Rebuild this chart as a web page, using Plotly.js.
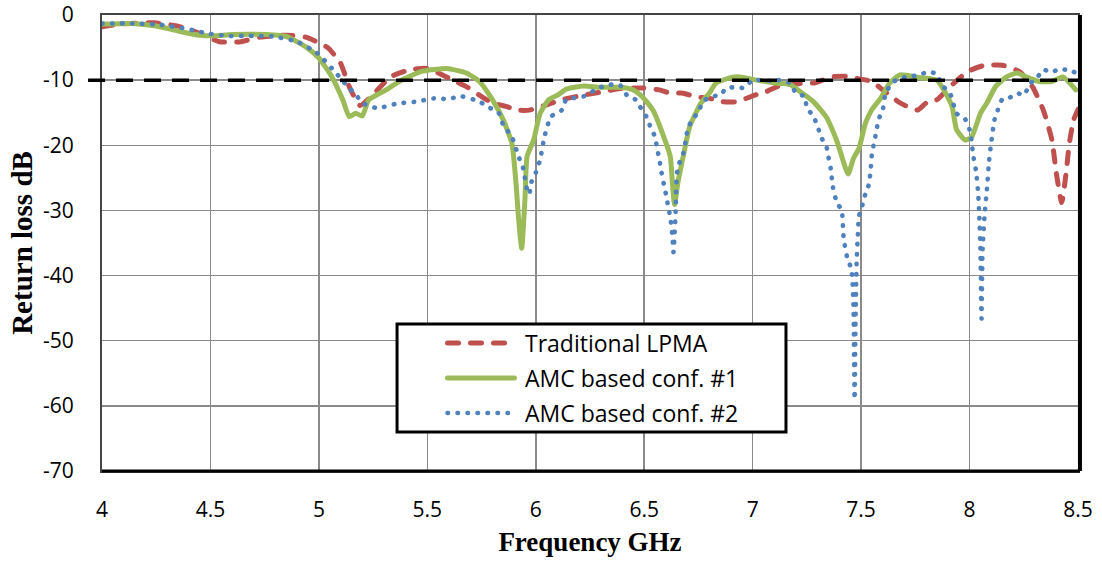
<!DOCTYPE html>
<html>
<head>
<meta charset="utf-8">
<script src="https://cdn.plot.ly/plotly-3.0.1.min.js"></script>
<style>
html,body{margin:0;padding:0;background:#fff;}
#chart{width:1102px;height:563px;}
.scatterlayer .js-line{stroke-linecap:round;}
.shapelayer path[data-index="4"],.shapelayer path[data-index="5"],.shapelayer path[data-index="6"]{stroke-linecap:round;}
</style>
</head>
<body>
<div id="chart"></div>
<script>
// ---- data ----
const seriesNames = ['Traditional LPMA', 'AMC based conf. #1', 'AMC based conf. #2'];

const freqTrad = [4.00,4.08,4.24,4.35,4.45,4.54,4.64,4.73,4.85,4.94,5.04,5.10,5.14,5.19,5.25,5.33,5.42,5.50,5.57,5.62,5.68,5.74,5.80,5.87,5.91,5.97,6.05,6.12,6.22,6.29,6.39,6.49,6.57,6.62,6.68,6.74,6.79,6.86,6.93,7.00,7.06,7.12,7.22,7.29,7.36,7.43,7.49,7.55,7.60,7.68,7.76,7.80,7.85,7.91,7.99,8.06,8.15,8.23,8.29,8.34,8.38,8.40,8.425,8.445,8.46,8.48,8.50];
const rlTrad   = [-1.8,-1.4,-1.2,-1.7,-2.8,-4.1,-4.1,-3.4,-3.1,-3.4,-5.0,-7.4,-11.0,-13.9,-12.2,-9.5,-8.4,-8.2,-9.2,-10.0,-11.0,-12.3,-13.5,-14.1,-14.6,-14.6,-13.8,-13.0,-12.3,-11.9,-11.3,-11.2,-11.5,-12.0,-12.0,-12.6,-12.7,-13.3,-13.3,-12.4,-11.8,-10.9,-10.5,-10.4,-9.5,-9.4,-9.8,-10.2,-11.5,-13.5,-14.6,-13.5,-13.0,-11.0,-8.7,-7.8,-7.7,-8.7,-11.0,-14.6,-19.2,-24.3,-28.8,-24.3,-19.7,-16.1,-14.5];

const freqConf1 = [4.00,4.14,4.25,4.37,4.45,4.51,4.60,4.76,4.85,4.94,5.00,5.06,5.11,5.14,5.17,5.20,5.23,5.31,5.37,5.47,5.59,5.68,5.74,5.80,5.85,5.89,5.91,5.92,5.935,5.95,5.96,5.99,6.02,6.06,6.10,6.14,6.22,6.29,6.39,6.45,6.49,6.54,6.59,6.62,6.63,6.64,6.655,6.68,6.71,6.76,6.80,6.83,6.89,6.94,7.02,7.12,7.17,7.22,7.28,7.34,7.39,7.44,7.465,7.49,7.52,7.55,7.59,7.63,7.68,7.77,7.85,7.89,7.92,7.94,7.98,8.01,8.05,8.08,8.12,8.17,8.22,8.26,8.32,8.38,8.43,8.49];
const rlConf1   = [-1.4,-1.3,-1.7,-2.6,-3.1,-3.2,-3.0,-3.0,-3.3,-4.9,-6.6,-9.5,-13.0,-15.6,-15.1,-15.5,-13.0,-11.5,-10.2,-8.7,-8.2,-8.9,-10.2,-13.0,-16.1,-19.7,-26.3,-31.0,-35.8,-28.4,-21.7,-19.2,-15.1,-13.0,-12.3,-11.4,-10.9,-11.1,-11.1,-11.5,-12.5,-14.6,-18.7,-21.7,-25.8,-29.1,-25.8,-21.7,-17.1,-13.6,-12.0,-10.5,-9.7,-9.5,-10.0,-10.5,-10.6,-11.8,-13.3,-15.7,-19.5,-24.4,-22.0,-20.5,-16.6,-14.5,-12.8,-10.5,-9.2,-9.6,-10.0,-12.0,-14.1,-17.6,-19.2,-18.7,-15.1,-13.5,-11.0,-9.5,-8.9,-9.5,-10.2,-10.2,-9.5,-11.5];

const freqConf2 = [4.00,4.14,4.27,4.37,4.43,4.48,4.58,4.68,4.79,4.90,4.99,5.06,5.10,5.13,5.17,5.20,5.27,5.36,5.45,5.53,5.59,5.66,5.74,5.78,5.83,5.85,5.89,5.92,5.94,5.96,5.97,5.98,6.00,6.02,6.04,6.07,6.12,6.14,6.22,6.29,6.34,6.39,6.42,6.46,6.49,6.51,6.53,6.55,6.56,6.57,6.58,6.59,6.60,6.61,6.62,6.63,6.635,6.645,6.65,6.66,6.68,6.69,6.70,6.72,6.75,6.77,6.81,6.85,6.88,6.93,6.96,7.00,7.08,7.12,7.17,7.20,7.24,7.25,7.28,7.30,7.32,7.34,7.35,7.36,7.37,7.39,7.41,7.415,7.42,7.435,7.455,7.46,7.465,7.47,7.475,7.48,7.485,7.49,7.505,7.515,7.53,7.54,7.545,7.55,7.56,7.57,7.58,7.60,7.61,7.63,7.66,7.71,7.77,7.81,7.85,7.87,7.91,7.94,7.98,8.00,8.01,8.015,8.03,8.04,8.045,8.05,8.055,8.06,8.07,8.08,8.09,8.10,8.115,8.13,8.15,8.18,8.22,8.25,8.28,8.31,8.34,8.38,8.41,8.46,8.50];
const rlConf2   = [-1.3,-1.3,-1.5,-2.0,-2.4,-2.8,-3.2,-3.2,-3.3,-4.1,-5.8,-8.2,-9.7,-10.9,-12.2,-13.5,-14.3,-13.6,-13.3,-12.8,-12.9,-12.5,-13.3,-14.1,-15.1,-16.9,-18.7,-21.7,-23.3,-26.8,-27.5,-25.6,-24.2,-22.2,-18.7,-15.6,-14.6,-13.0,-12.5,-11.2,-10.7,-10.8,-12.3,-13.0,-14.6,-15.6,-17.3,-18.7,-20.6,-22.2,-24.2,-25.9,-27.5,-29.3,-31.0,-34.0,-36.4,-30.0,-24.5,-22.9,-21.3,-19.5,-17.6,-16.1,-14.9,-13.3,-12.5,-12.3,-11.2,-11.1,-11.2,-10.0,-10.1,-10.0,-10.4,-12.0,-12.5,-14.3,-15.5,-17.2,-19.0,-20.2,-21.9,-23.6,-26.4,-29.0,-29.8,-31.7,-34.4,-37.1,-39.0,-40.6,-45.0,-59.0,-45.0,-37.3,-33.7,-30.9,-29.3,-27.9,-26.8,-25.0,-23.3,-21.3,-19.6,-17.9,-16.1,-14.5,-12.5,-11.0,-10.0,-9.5,-9.2,-8.7,-9.1,-10.7,-12.0,-15.1,-16.0,-17.6,-19.4,-21.2,-24.0,-27.5,-31.0,-35.8,-46.6,-36.0,-30.4,-26.8,-22.4,-19.6,-16.1,-14.6,-13.0,-12.8,-12.0,-12.3,-10.5,-9.7,-8.4,-8.8,-8.3,-8.5,-9.0];

const thresholdDb = -10;

const xTickVals = [4, 4.5, 5, 5.5, 6, 6.5, 7, 7.5, 8, 8.5];
const xTickText = ['4', '4.5', '5', '5.5', '6', '6.5', '7', '7.5', '8', '8.5'];
const yTickVals = [0, -10, -20, -30, -40, -50, -60, -70];
const yTickText = ['0', '-10', '-20', '-30', '-40', '-50', '-60', '-70'];

// ---- styles ----
const colors = ['#C0504D', '#9BBB59', '#4F81BD'];
const dashes = ['11px,12px', 'solid', '0.5px,9.5px'];
const widths = [5, 5, 4.6];

const traces = [
  {x: freqTrad, y: rlTrad},
  {x: freqConf1, y: rlConf1},
  {x: freqConf2, y: rlConf2}
].map((d, i) => ({
  type: 'scatter', mode: 'lines', name: seriesNames[i],
  x: d.x, y: d.y,
  line: {color: colors[i], width: widths[i], dash: dashes[i], shape: 'spline', smoothing: 0.5},
  showlegend: false, hoverinfo: 'x+y'
}));
const data = [traces[0], traces[1], traces[2]];

const tickFont = {family: 'Open Sans, sans-serif', size: 21, color: '#000'};
const xTitleFont = {family: 'Liberation Serif, serif', size: 27, color: '#000', weight: 'bold'};
const yTitleFont = {family: 'Liberation Serif, serif', size: 29, color: '#000', weight: 'bold'};

// custom legend (box + samples + labels), in paper coordinates
const leg = {x0: 0.3023, x1: 0.7008, y0: 0.0855, y1: 0.3224, rows: [0.2807, 0.2039, 0.1272], sx0: 0.3540, sx1: 0.4226, tx: 0.4314};

const shapes = [
  {type: 'line', xref: 'paper', yref: 'y', x0: -0.0143, x1: 1, y0: thresholdDb, y1: thresholdDb,
   line: {color: '#000', width: 3.5, dash: '17px,11px'}, layer: 'above'},
  {type: 'line', xref: 'paper', yref: 'paper', x0: 0, x1: 1.002, y0: 0, y1: 0, line: {color: '#000', width: 3}, layer: 'above'},
  {type: 'line', xref: 'paper', yref: 'paper', x0: 1.002, x1: 1.002, y0: 0, y1: 1, line: {color: '#000', width: 4}, layer: 'above'},
  {type: 'rect', xref: 'paper', yref: 'paper', x0: leg.x0, x1: leg.x1, y0: leg.y0, y1: leg.y1,
   line: {color: '#000', width: 3}, fillcolor: '#fff', layer: 'above'}
];
const annotations = [];
seriesNames.forEach((nm, i) => {
  shapes.push({type: 'line', xref: 'paper', yref: 'paper', x0: leg.sx0, x1: leg.sx1, y0: leg.rows[i], y1: leg.rows[i],
    line: {color: colors[i], width: widths[i], dash: dashes[i]}, layer: 'above'});
  annotations.push({xref: 'paper', yref: 'paper', x: leg.tx, y: leg.rows[i], xanchor: 'left', yanchor: 'middle',
    text: nm, showarrow: false, font: {family: 'Open Sans, sans-serif', size: 23, color: '#000'}});
});

const layout = {
  width: 1102, height: 563,
  margin: {l: 102, r: 24, t: 15, b: 92},
  paper_bgcolor: '#fff', plot_bgcolor: '#fff',
  showlegend: false,
  xaxis: {
    range: [4, 8.5], tickvals: xTickVals, ticktext: xTickText, ticks: '',
    ticklabelstandoff: 19,
    tickfont: tickFont, showgrid: true, gridcolor: '#8a8a8a', gridwidth: 1.5, zeroline: false,
    showline: true, linecolor: '#444', linewidth: 2, mirror: true,
    title: {text: 'Frequency GHz', font: xTitleFont, standoff: 10}
  },
  yaxis: {
    range: [-70, 0], tickvals: yTickVals, ticktext: yTickText, ticks: '',
    ticklabelstandoff: 22,
    tickfont: tickFont, showgrid: true, gridcolor: '#8a8a8a', gridwidth: 1.5, zeroline: false,
    showline: true, linecolor: '#444', linewidth: 2, mirror: true,
    title: {text: 'Return loss dB', font: yTitleFont, standoff: 2}
  },
  shapes: shapes,
  annotations: annotations
};

Plotly.newPlot('chart', data, layout, {displayModeBar: false, staticPlot: true});
</script>
</body>
</html>
